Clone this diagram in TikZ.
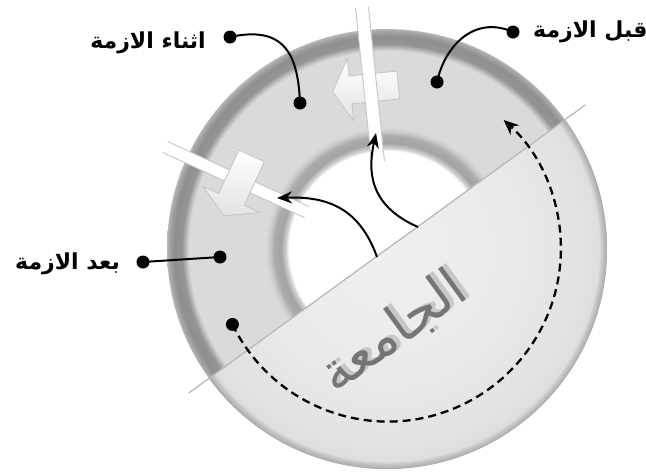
\documentclass[tikz,border=0pt]{standalone}
\usepackage{fontspec}
\usetikzlibrary{arrows.meta}
\newfontfamily\arabicfont[Script=Arabic]{DejaVu Sans}
\TeXXeTstate=1
\definecolor{rmain}{gray}{0.855}
\definecolor{ibmid}{gray}{0.82}
\definecolor{ibdark}{gray}{0.64}
\definecolor{ibdarkb}{gray}{0.67}
\definecolor{iblight}{gray}{0.80}
\definecolor{oblight}{gray}{0.78}
\definecolor{obdark}{gray}{0.58}
\definecolor{obdarkb}{gray}{0.56}
\definecolor{obmid}{gray}{0.65}
\definecolor{obedge}{gray}{0.72}
\definecolor{dcen}{gray}{0.94}
\definecolor{dmid}{gray}{0.915}
\definecolor{dout}{gray}{0.885}
\definecolor{dedge}{gray}{0.87}
\definecolor{drim}{gray}{0.78}
\definecolor{drimb}{gray}{0.66}
\definecolor{unitext}{gray}{0.46}
\definecolor{unishadow}{gray}{0.78}
\pgfdeclareradialshading{ringshade}{\pgfpoint{0bp}{0bp}}{%
color(0bp)=(white); color(11.14bp)=(white); color(11.48bp)=(ibmid);
color(12.05bp)=(ibdark); color(12.84bp)=(ibdarkb); color(13.41bp)=(iblight);
color(13.86bp)=(rmain); color(22.5bp)=(rmain); color(22.73bp)=(oblight);
color(23.3bp)=(obdark); color(24.2bp)=(obdarkb); color(24.77bp)=(obmid);
color(25bp)=(obedge); color(50bp)=(obedge)}
\pgfdeclareradialshading{diskshade}{\pgfpoint{0bp}{0bp}}{%
color(0bp)=(dcen); color(15bp)=(dmid); color(22.5bp)=(dout);
color(24.1bp)=(dedge); color(24.43bp)=(drim); color(25bp)=(drimb); color(50bp)=(drimb)}
\tikzset{
  bdot/.style={circle, fill=black, inner sep=0pt, minimum size=13pt},
  conn/.style={line width=2pt, black},
  darr/.style={line width=2pt, black, -{Stealth[length=15pt,width=12pt]}},
  dasharc/.style={line width=2.3pt, black, dash pattern=on 8pt off 5pt, -{Stealth[length=15pt,width=13pt]}},
  lbl/.style={inner sep=0pt, font=\arabicfont\bfseries\fontsize{22}{26}\selectfont},
  bigtxt/.style={rotate=36, inner sep=0pt, font=\arabicfont\fontsize{54}{60}\selectfont},
  slitedge/.style={draw=gray!45, line width=0.9pt},
  arrowside/.style={fill=gray!55},
  arrowface/.style={top color=white, bottom color=gray!22, draw=gray!45, line width=0.8pt},
  cutline/.style={draw=gray!55, line width=1.3pt}
}
\begin{document}
\begin{tikzpicture}[x=1pt,y=1pt]
\useasboundingbox (0,0) rectangle (646,-472);
\coordinate (C) at (387,-249);
% ring
\shade[shading=ringshade] (C) circle (220);
% arrow 1 (behind slit 1)
\begin{scope}[shift={(3,-3)},shift={(C)},rotate=95.9]
  \fill[arrowside] (148,-28) -- (148,20) -- (131,20) -- (162,38) -- (193,20) -- (176,20) -- (176,-28) -- cycle;
\end{scope}
\begin{scope}[shift={(C)},rotate=95.9]
  \shade[arrowface] (148,-28) -- (148,20) -- (131,20) -- (162,38) -- (193,20) -- (176,20) -- (176,-28) -- cycle;
\end{scope}
% slit 1
\begin{scope}[shift={(C)},rotate=95.9]
  \fill[white] (85,-6.5) rectangle (243,6.5);
  \draw[slitedge] (88,6.5) -- (243,6.5) (88,-6.5) -- (243,-6.5);
\end{scope}
% slit 2
\begin{scope}[shift={(C)},rotate=155.3]
  \fill[white] (85,-6) rectangle (244,6);
  \draw[slitedge] (88,6) -- (244,6) (88,-6) -- (244,-6);
\end{scope}
% arrow 2 (in front of slit 2)
\begin{scope}[shift={(3,-3)},shift={(C)},rotate=155.3]
  \fill[arrowside] (148,-28) -- (148,20) -- (131,20) -- (162,38) -- (193,20) -- (176,20) -- (176,-28) -- cycle;
\end{scope}
\begin{scope}[shift={(C)},rotate=155.3]
  \shade[arrowface] (148,-28) -- (148,20) -- (131,20) -- (162,38) -- (193,20) -- (176,20) -- (176,-28) -- cycle;
\end{scope}
% half disk
\begin{scope}
  \clip (C) ++(36:220) arc[start angle=36,end angle=-144,radius=220] -- cycle;
  \shade[shading=diskshade] (C) circle (220);
\end{scope}
\coordinate (cutA) at ([shift={(36:245)}]C);
\coordinate (cutB) at ([shift={(216:245)}]C);
\draw[cutline] (cutA) -- (cutB);
% big text
\node[bigtxt, text=unishadow] (unish) at (397,-329) {\beginR الجامعة\endR};
\node[bigtxt, text=unitext] (uni) at (393,-332) {\beginR الجامعة\endR};
% black curved arrows
\coordinate (a1s) at (377,-257);
\coordinate (a1e) at (277,-198);
\coordinate (a2s) at (418,-227);
\coordinate (a2e) at (376,-133);
\draw[darr] (a1s) .. controls (360,-210) and (330,-196) .. (a1e);
\draw[darr] (a2s) .. controls (368,-205) and (368,-170) .. (a2e);
% dashed arc
\node[bdot] (d5) at ([shift={(206:172)}]C) {};
\draw[dasharc] (d5.center) arc[start angle=206,end angle=408,radius=173];
% labels
\node[lbl, anchor=east] (t1) at (206,-43) {\beginR اثناء الازمة\endR};
\node[bdot] (p1) at (230,-37) {};
\node[bdot] (q1) at (300,-103) {};
\draw[conn] (p1.center) .. controls (285,-25) and (298,-55) .. (q1.center);
\node[lbl, anchor=west] (t2) at (533,-32) {\beginR قبل الازمة\endR};
\node[bdot] (p2) at (513,-32) {};
\node[bdot] (q2) at (437,-82) {};
\draw[conn] (p2.center) .. controls (475,-15) and (445,-45) .. (q2.center);
\node[lbl, anchor=east] (t3) at (120,-264) {\beginR بعد الازمة\endR};
\node[bdot] (p3) at (143,-262) {};
\node[bdot] (q3) at (220,-257) {};
\draw[conn] (p3.center) -- (q3.center);
\end{tikzpicture}
\end{document}
